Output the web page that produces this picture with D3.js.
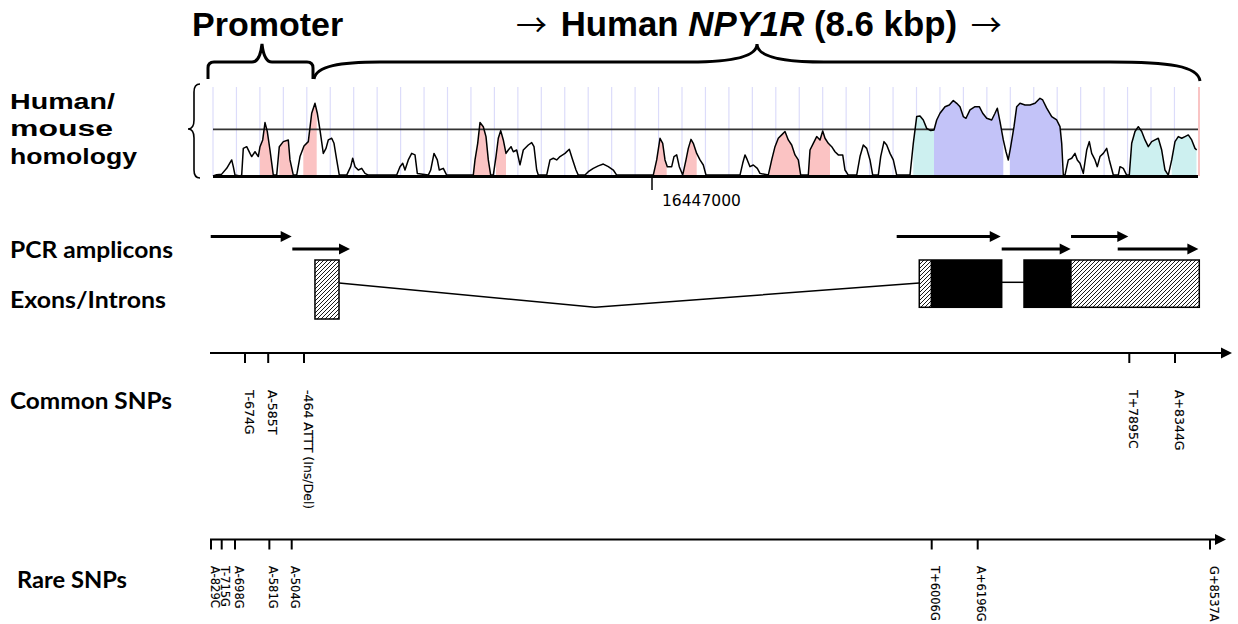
<!DOCTYPE html>
<html><head><meta charset="utf-8">
<script src="https://cdn.jsdelivr.net/npm/d3@7"></script>
<style>body{margin:0;background:#fff}svg{display:block}</style>
</head><body>
<svg id="c" width="1238" height="624"></svg>
<script>
// ---------------- DATA ----------------
// Human/mouse conservation profile: bp offset from window start, % identity
const windowStartBp = 16442610;
const windowLengthBp = 9850;
const profilePos = [0,37,87,137,187,203,220,270,287,303,337,370,387,420,453,470,497,520,543,570,603,637,663,703,753,770,803,837,870,910,953,987,1020,1043,1070,1103,1130,1153,1187,1210,1237,1263,1337,1377,1397,1420,1453,1487,1520,1553,1837,1870,1897,1920,1953,1987,2020,2043,2153,2177,2210,2243,2263,2303,2337,2603,2620,2647,2670,2703,2730,2753,2777,2803,2830,2853,2877,2903,2930,2953,2980,3003,3037,3070,3103,3153,3187,3210,3237,3253,3337,3370,3403,3437,3470,3520,3563,3597,3630,3653,3720,3753,3803,3853,3903,3953,4003,4037,4403,4437,4470,4497,4520,4543,4587,4610,4637,4663,4697,4730,4753,4780,4803,4837,4870,4903,4930,5270,5297,5320,5343,5370,5403,5443,5470,5553,5587,5620,5653,5687,5720,5753,5787,5820,5853,5877,5953,5970,6003,6037,6070,6097,6120,6153,6187,6220,6253,6297,6320,6353,6437,6470,6503,6537,6570,6597,6653,6677,6710,6737,6770,6803,6837,6970,7003,7037,7070,7103,7137,7177,7210,7237,7270,7320,7363,7403,7437,7470,7503,7530,7570,7620,7663,7697,7737,7787,7820,7843,7870,7903,7930,7953,7977,8010,8037,8070,8120,8170,8220,8270,8297,8337,8387,8437,8470,8487,8503,8520,8553,8587,8620,8643,8670,8703,8737,8763,8787,8820,8843,8870,8903,8937,8963,9003,9053,9070,9103,9137,9163,9187,9220,9253,9287,9320,9353,9387,9420,9453,9487,9520,9553,9587,9620,9653,9687,9720,9753,9787,9820,9837];
const profilePct = [50,50.7,51,54.1,58.6,55,50.5,50,50.5,64.8,65.7,62.1,60.4,63,60.4,65.7,69.3,78.6,73.8,63.9,50.5,50.5,65.7,68.4,69.3,58.6,50.5,50.5,60.4,66.1,68.4,83.6,88.9,83.6,74.6,62.1,64.8,69.3,70.2,67.5,58.6,50.5,50.5,55,59.5,55,53.2,54.1,51.4,50.5,50.5,55,56.8,53.2,58.6,62.1,61.3,51.4,50.5,53.2,62.1,58.6,53.2,54.1,50.5,50.5,58.6,67.5,78.6,76.4,71.1,58.6,50.5,50.5,60.4,70.2,74.3,69.3,62.1,63.9,65.7,63,63.9,56,63.9,66.6,67.9,65.7,53.2,50.5,50.5,58.6,59.5,58.6,60.4,62.1,64.3,58.6,53.2,50.5,50.5,52.3,54.1,55.4,56.4,55,53.2,50.5,50.5,58.6,70.2,67.5,58.6,55,55,60.4,61.3,55,50.5,58.6,64.8,69.6,67.5,62.1,58.6,55.9,50.5,50.5,56.8,61.3,58.6,55,55.9,54.1,51.4,50.5,58.6,65.7,70.2,72,73.8,69.3,66.6,61.3,58.6,50.5,50.5,63.9,67.5,71.1,69.3,74.1,70.2,67.5,65.7,63,61.3,61.3,53.2,50.5,50.5,60.4,66.6,64.8,58.6,50.5,50.5,60.4,68.4,66.6,62.1,58.6,50.5,50.5,67.5,81.8,82.1,80,75.5,74.3,74.6,80,83.6,87.1,88,90.4,88.9,87.1,81.8,80.9,85.4,87.1,87.1,83.6,80.9,80,83.6,86.3,79.1,69.3,63,58.6,65.7,76.4,87.1,88.9,88,88,88.9,91.6,90.7,86.3,81.8,80,76.4,67.5,50.5,50.5,58.6,59.5,62.1,58.6,56.8,51.4,63.9,68.4,62.1,58.6,55,60.4,62.1,64.8,58.6,50.5,50.5,55,54.1,50.5,50.5,67.5,73.8,76.4,73.8,69.3,65.7,68.4,69.3,70.2,63.9,53.2,50.5,58.6,68.4,71.1,70.2,71.1,72,69.3,64.8,63.9];
const conservedStart = [470,663,903,2603,2830,4403,4710,5563,5953,7003,7210,7970,9163,9587];
const conservedEnd   = [603,797,1037,2770,2930,4537,4837,5870,6170,7210,7903,8487,9553,9837];
const conservedType  = ["cns","cns","cns","cns","cns","cns","cns","cns","cns","utr","exon","exon","utr","utr"];
const thresholdPct = 75;
const gridStepBp = 234.5;
const genomicTicks = [16447000];

// Gene model, positions in bp relative to transcription start (schematic)
const ampliconStart = [-832, -502, 5645, 6465, 7242, 7765];
const ampliconEnd   = [-504, 10, 6454, 7238, 7884, 8473];
const ampliconRow   = [0, 1, 0, 1, 0, 1];
const exonStart    = [-351, 5878, 6715];
const exonEnd      = [-103, 6465, 8478];
const exonCdsStart = [null, 5995, 6715];
const exonCdsEnd   = [null, 6465, 7249];

const commonSnpPos   = [-674, -585, -464, 7895, 8344];
const commonSnpLabel = ["T-674G", "A-585T", "-464 ATTT (Ins/Del)", "T+7895C", "A+8344G"];
const rareSnpPos   = [-829, -715, -698, -581, -504, 6006, 6196, 8537];
const rareSnpLabel = ["A-829C", "T-715G", "A-698G", "A-581G", "A-504G", "T+6006G", "A+6196G", "G+8537A"];

// ---------------- LAYOUT ----------------
const svg = d3.select("#c");
const colors = {cns:"#fbc3c3", utr:"#cdf0f0", exon:"#c3c3f8"};
const x = d3.scaleLinear().domain([0, windowLengthBp]).range([213, 1198]);
const y = d3.scaleLinear().domain([50, thresholdPct]).range([176, 129.3]);
const plotTop = 87;
// schematic (not to scale) map of gene coordinates
const gx = d3.scaleLinear()
  .domain([-829,-715,-698,-674,-585,-504,-464,6006,6196,7895,8344,8537])
  .range([211,221.7,235,245,268.2,291.7,304,931.7,977.7,1129.3,1175,1210]);

const defs = svg.append("defs");
const pat = defs.append("pattern").attr("id","hatch").attr("patternUnits","userSpaceOnUse")
  .attr("width",4).attr("height",4);
pat.append("rect").attr("width",4).attr("height",4).attr("fill","#fff");
pat.append("path").attr("d","M-1,1 l2,-2 M0,4 l4,-4 M3,5 l2,-2").attr("stroke","#000").attr("stroke-width",0.9);

// ---- titles
svg.append("text").attr("x",192).attr("y",36).attr("font-family","Liberation Sans, Arial, sans-serif")
  .attr("font-weight","bold").attr("font-size",34).text("Promoter");
const t2 = svg.append("text").attr("x",516).attr("y",36).attr("font-family","Liberation Sans, Arial, sans-serif")
  .attr("font-weight","bold").attr("font-size",34.8);
t2.append("tspan").attr("font-weight","normal").attr("font-family","Noto Sans CJK SC, sans-serif").attr("font-size",31).text("\u2192");
t2.append("tspan").attr("dx",4).text(" Human ");
t2.append("tspan").attr("font-style","italic").text("NPY1R");
t2.append("tspan").text(" (8.6 kbp) ");
t2.append("tspan").attr("dx",4).attr("font-weight","normal").attr("font-family","Noto Sans CJK SC, sans-serif").attr("font-size",31).text("\u2192");

// ---- braces
const braceG = svg.append("g").attr("fill","none").attr("stroke","#000").attr("stroke-width",3);
braceG.append("path").attr("d",
  "M208,79 L208,68 Q208,62 214,62 L252,62 Q260,62 262,44 Q264,62 272,62 L307,62 Q313,62 313,68 L313,79");
braceG.append("path").attr("d",
  "M314,79 C316,66 340,62 380,62 L690,62 C735,62 757,56 757,44 C757,56 779,62 824,62 L1110,62 C1170,62 1198,66 1200,81");
svg.append("path").attr("fill","none").attr("stroke","#000").attr("stroke-width",1.6)
  .attr("d","M200,84 Q194,84 194,92 L194,120 Q194,129 188,129 Q194,129 194,138 L194,170 Q194,178 200,178");

// ---- left labels
const lab1 = svg.append("g").attr("font-family","Liberation Sans, Arial, sans-serif").attr("font-weight","bold").attr("font-size",22.5);
[["Human/",108.5,105],["mouse",136,103],["homology",163.5,127]].forEach(d=>
  lab1.append("text").attr("x",10).attr("y",d[1]).attr("textLength",d[2]).attr("lengthAdjust","spacingAndGlyphs").text(d[0]));
const lab2 = svg.append("g").attr("font-family","Lato, sans-serif").attr("font-weight","bold").attr("font-size",23);
[["PCR amplicons",10,257.5,163],["Exons/Introns",10,308,156],["Common SNPs",10,409,162],["Rare SNPs",17,587.5,110]]
  .forEach(d=>lab2.append("text").attr("x",d[1]).attr("y",d[2]).attr("textLength",d[3]).attr("lengthAdjust","spacingAndGlyphs").text(d[0]));

// ---- homology plot
const prof = profilePos.map((p,i)=>[p, profilePct[i]]);
svg.append("g").selectAll("line").data(d3.range(0, 42)).join("line")
  .attr("x1",i=>x(i*gridStepBp)).attr("x2",i=>x(i*gridStepBp))
  .attr("y1",plotTop).attr("y2",y(50)).attr("stroke","#dcdcfa").attr("stroke-width",1.2);
svg.append("line").attr("x1",x(windowLengthBp)+1).attr("x2",x(windowLengthBp)+1).attr("y1",plotTop).attr("y2",y(50))
  .attr("stroke","#f7b0b0").attr("stroke-width",1.5);

const area = d3.area().x(d=>x(d[0])).y0(y(50)).y1(d=>y(d[1]));
const regions = conservedStart.map((s,i)=>({s, e:conservedEnd[i], t:conservedType[i], i}));
regions.forEach(r=>{
  defs.append("clipPath").attr("id","clip"+r.i).append("rect")
    .attr("x",x(r.s)).attr("width",x(r.e)-x(r.s)).attr("y",plotTop-20).attr("height",y(50)-plotTop+20);
});
const drawFills = (filter)=>regions.filter(filter).forEach(r=>{
  svg.append("path").attr("d",area(prof)).attr("fill",colors[r.t]).attr("clip-path",`url(#clip${r.i})`);
});
drawFills(r=>r.t!=="exon");
svg.append("line").attr("x1",x(0)).attr("x2",x(windowLengthBp)).attr("y1",y(thresholdPct)).attr("y2",y(thresholdPct))
  .attr("stroke","#333").attr("stroke-width",1.8);
drawFills(r=>r.t==="exon");
svg.append("path").attr("d",d3.line().x(d=>x(d[0])).y(d=>y(d[1]))(prof))
  .attr("fill","none").attr("stroke","#000").attr("stroke-width",1.5).attr("stroke-linejoin","round");
svg.append("line").attr("x1",x(0)).attr("x2",x(windowLengthBp)).attr("y1",y(50)+0.5).attr("y2",y(50)+0.5)
  .attr("stroke","#000").attr("stroke-width",3);
genomicTicks.forEach(t=>{
  const tx = x(t-windowStartBp);
  svg.append("line").attr("x1",tx).attr("x2",tx).attr("y1",y(50)).attr("y2",190).attr("stroke","#000").attr("stroke-width",1.5);
  svg.append("text").attr("x",tx+10).attr("y",206).attr("font-family","DejaVu Sans, sans-serif").attr("font-size",15.5).text(t);
});

// ---- amplicons
const rowY = [236.5, 249];
ampliconStart.forEach((s,i)=>{
  const x1 = gx(s), x2 = gx(ampliconEnd[i]), yy = rowY[ampliconRow[i]];
  svg.append("line").attr("x1",x1).attr("x2",x2-8).attr("y1",yy).attr("y2",yy).attr("stroke","#000").attr("stroke-width",3);
  svg.append("path").attr("d",`M${x2},${yy} L${x2-11},${yy-5.5} L${x2-11},${yy+5.5} Z`).attr("fill","#000");
});

// ---- exons / introns
const exonTop = 260, exonBot = [319, 307.3, 307.3], intronY = 283;
const gIntron = svg.append("g").attr("fill","none").attr("stroke","#000").attr("stroke-width",1.5);
for (let i=0;i<exonStart.length-1;i++){
  const a = gx(exonEnd[i]), b = gx(exonStart[i+1]);
  if (b-a > 100) {
    const mx = a + (b-a)*0.441;
    gIntron.append("path").attr("d",`M${a},${intronY} L${mx},${exonBot[1]} L${b},${intronY}`);
  } else {
    gIntron.append("path").attr("d",`M${a},${intronY-0.7} L${b},${intronY-0.7}`);
  }
}
exonStart.forEach((s,i)=>{
  const x1 = gx(s), x2 = gx(exonEnd[i]);
  svg.append("rect").attr("x",x1).attr("y",exonTop).attr("width",x2-x1).attr("height",exonBot[i]-exonTop)
    .attr("fill","url(#hatch)");
  if (exonCdsStart[i]!==null){
    svg.append("rect").attr("x",gx(exonCdsStart[i])).attr("y",exonTop)
      .attr("width",gx(exonCdsEnd[i])-gx(exonCdsStart[i])).attr("height",exonBot[i]-exonTop).attr("fill","#000");
  }
  svg.append("rect").attr("x",x1).attr("y",exonTop).attr("width",x2-x1).attr("height",exonBot[i]-exonTop)
    .attr("fill","none").attr("stroke","#000").attr("stroke-width",1.5);
});

// ---- SNP axes
function snpTrack(axisY, xStart, xEnd, pos, labels, labelY, fs){
  const g = svg.append("g");
  g.append("line").attr("x1",xStart).attr("x2",xEnd-8).attr("y1",axisY).attr("y2",axisY).attr("stroke","#000").attr("stroke-width",2);
  g.append("path").attr("d",`M${xEnd},${axisY} L${xEnd-11},${axisY-5.5} L${xEnd-11},${axisY+5.5} Z`).attr("fill","#000");
  g.selectAll("line.t").data(pos).join("line").attr("class","t")
    .attr("x1",d=>gx(d)).attr("x2",d=>gx(d)).attr("y1",axisY).attr("y2",axisY+10).attr("stroke","#000").attr("stroke-width",2);
  g.selectAll("text").data(pos).join("text")
    .attr("transform",d=>`translate(${gx(d)-0.5},${labelY}) rotate(90)`)
    .attr("font-family","DejaVu Sans, sans-serif").attr("font-size",fs)
    .attr("stroke","#000").attr("stroke-width",0.15)
    .text((d,i)=>labels[i]);
}
snpTrack(353, 210, 1232, commonSnpPos, commonSnpLabel, 390, 12.5);
snpTrack(539.5, 210, 1226, rareSnpPos, rareSnpLabel, 566, 11.5);
</script>
</body></html>
